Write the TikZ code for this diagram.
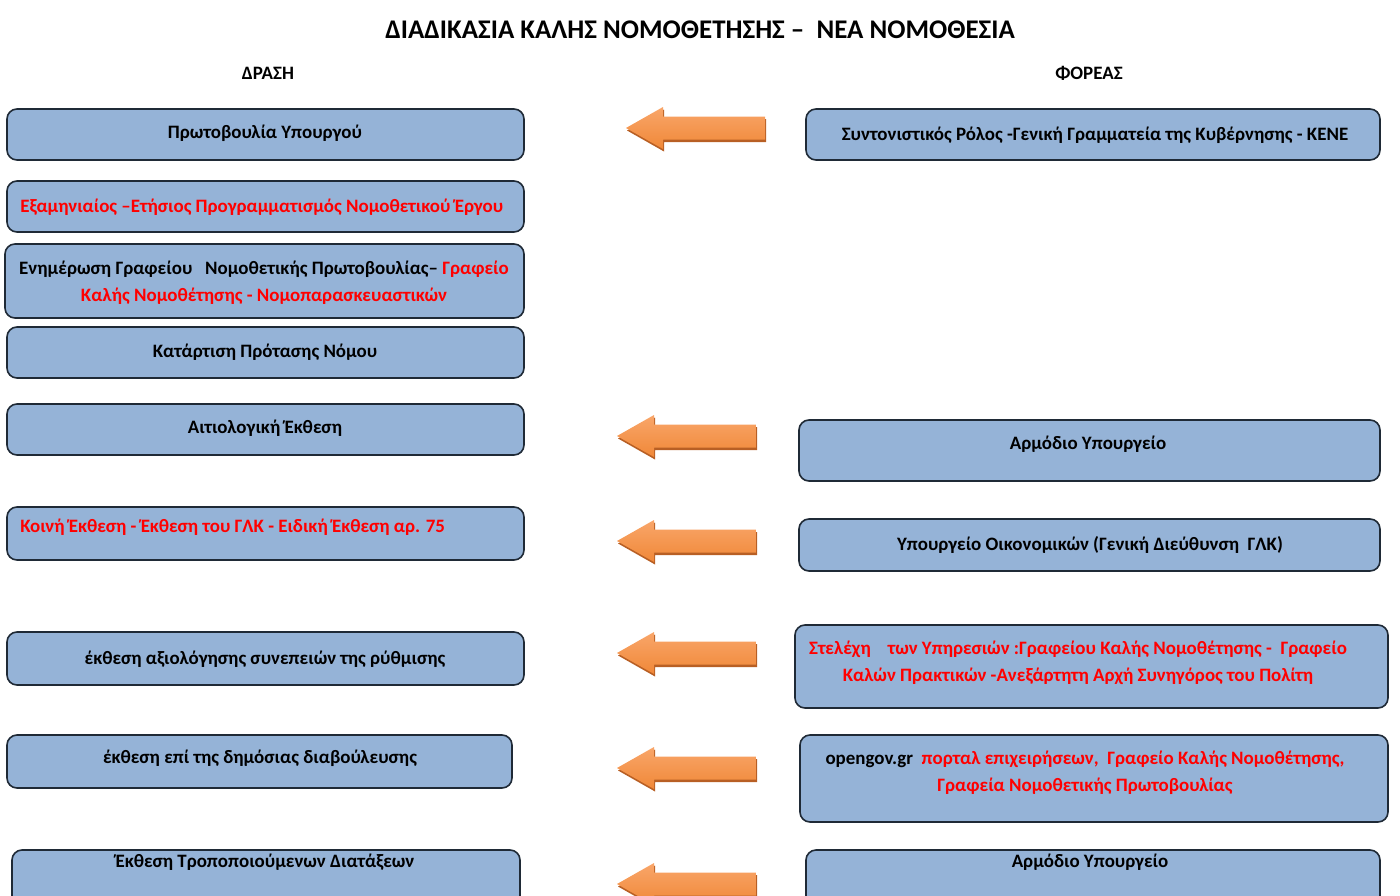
\documentclass[tikz,border=0pt]{standalone}
\usepackage{fontspec}
\setmainfont{Carlito}
\definecolor{boxblue}{HTML}{95B3D7}
\definecolor{boxline}{HTML}{1F2A36}
\definecolor{redtxt}{HTML}{FF0000}
\definecolor{orlight}{HTML}{F9A66A}
\definecolor{ordark}{HTML}{F08838}
\definecolor{orshadow}{HTML}{B85F24}
\begin{document}
\begin{tikzpicture}[line cap=round,line join=round,x=0.75pt,y=-0.75pt,
  box/.style={draw=boxline,fill=boxblue,line width=1.2pt,rounded corners=7.5pt},
  txt/.style={font=\fontsize{14.2}{20.25}\selectfont\bfseries,align=center,inner sep=0pt},
  rd/.style={text=redtxt}]
\clip (0,0) rectangle (1400,896);
\node[txt,font=\fontsize{20.2}{22}\selectfont\bfseries] (title) at (700,30) {ΔΙΑΔΙΚΑΣΙΑ ΚΑΛΗΣ ΝΟΜΟΘΕΤΗΣΗΣ –~~ΝΕΑ ΝΟΜΟΘΕΣΙΑ};
\node[txt] (drasi) at (268,73) {ΔΡΑΣΗ};
\node[txt] (foreas) at (1089,73) {ΦΟΡΕΑΣ};
% left column: actions
\draw[box] (7,109) rectangle (524,160);
\node[txt] (d1) at (265,133) {Πρωτοβουλία Υπουργού};
\draw[box] (7,181) rectangle (524,232);
\node[txt,rd,anchor=west] (d2) at (20,207) {Εξαμηνιαίος –Ετήσιος Προγραμματισμός Νομοθετικού Έργου};
\draw[box] (5,244) rectangle (524,318);
\node[txt] (d3) at (264,283) {Ενημέρωση Γραφείου~~~Νομοθετικής Πρωτοβουλίας– {\color{redtxt}Γραφείο}\\
  {\color{redtxt}Καλής Νομοθέτησης - Νομοπαρασκευαστικών}};
\draw[box] (7,327) rectangle (524,378);
\node[txt] (d4) at (265,352) {Κατάρτιση Πρότασης Νόμου};
\draw[box] (7,404) rectangle (524,455);
\node[txt] (d5) at (265,428) {Αιτιολογική Έκθεση};
\draw[box] (7,507) rectangle (524,560);
\node[txt,rd,anchor=west] (d6) at (20,527) {Κοινή Έκθεση - Έκθεση του ΓΛΚ - Ειδική Έκθεση αρ. 75};
\draw[box] (7,632) rectangle (524,685);
\node[txt] (d7) at (265,659) {έκθεση αξιολόγησης συνεπειών της ρύθμισης};
\draw[box] (7,735) rectangle (512,788);
\node[txt] (d8) at (260,758) {έκθεση επί της δημόσιας διαβούλευσης};
\draw[box] (12,850) rectangle (520,912);
\node[txt] (d9) at (265,862) {Έκθεση Τροποποιούμενων Διατάξεων};
% right column: bodies
\draw[box] (806,109) rectangle (1380,160);
\node[txt] (f1) at (1095,135) {Συντονιστικός Ρόλος -Γενική Γραμματεία της Κυβέρνησης - ΚΕΝΕ};
\draw[box] (799,420) rectangle (1380,481);
\node[txt] (f2) at (1088,444) {Αρμόδιο Υπουργείο};
\draw[box] (799,519) rectangle (1380,571);
\node[txt] (f3) at (1090,545) {Υπουργείο Οικονομικών (Γενική Διεύθυνση ~ΓΛΚ)};
\draw[box] (795,625) rectangle (1388,708);
\node[txt,rd] (f4) at (1078,663) {Στελέχη~~~~των Υπηρεσιών :Γραφείου Καλής Νομοθέτησης - ~Γραφείο\\
  Καλών Πρακτικών -Ανεξάρτητη Αρχή Συνηγόρος του Πολίτη};
\draw[box] (800,735) rectangle (1388,822);
\node[txt,rd] (f5) at (1085,773) {{\color{black}opengov.gr}~~πορταλ επιχειρήσεων, ~Γραφείο Καλής Νομοθέτησης,\\
  Γραφεία Νομοθετικής Πρωτοβουλίας};
\draw[box] (806,850) rectangle (1380,912);
\node[txt] (f6) at (1090,862) {Αρμόδιο Υπουργείο};
% block arrows
\foreach \tx/\ty in {626/128,617/436,617/541,617/653,617/768,617/884}
{
\fill[orshadow] (\tx+1,\ty+2.5) -- ++(37,-21) -- ++(0,9.5) -- ++(102,0) -- ++(0,23) -- ++(-102,0) -- ++(0,9.5) -- cycle;
\shade[top color=orlight,bottom color=ordark] (\tx,\ty) -- ++(37,-21) -- ++(0,9.5) -- ++(102,0) -- ++(0,23) -- ++(-102,0) -- ++(0,9.5) -- cycle;
}
\end{tikzpicture}
\end{document}
